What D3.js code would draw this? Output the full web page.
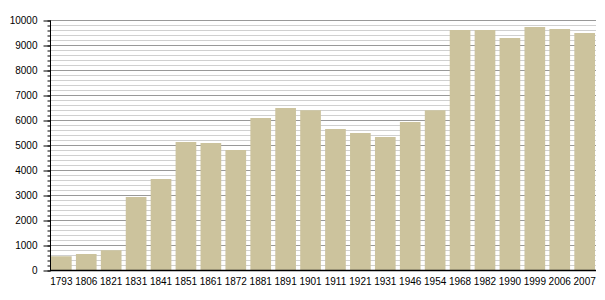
<!DOCTYPE html>
<html>
<head>
<meta charset="utf-8">
<script src="https://cdn.jsdelivr.net/npm/d3@7"></script>
<style>
  body { margin: 0; background: #fff; }
  svg { display: block; }
  text { font-family: "Liberation Sans", Arial, sans-serif; font-size: 10px; fill: #000; }
</style>
</head>
<body>
<svg id="chart" width="605" height="300"></svg>
<script>
const years = ["1793", "1806", "1821", "1831", "1841", "1851", "1861", "1872", "1881", "1891", "1901",
               "1911", "1921", "1931", "1946", "1954", "1968", "1982", "1990", "1999", "2006", "2007"];
const population = [550, 640, 790, 2920, 3640, 5120, 5080, 4800, 6080, 6480, 6390,
                    5640, 5480, 5320, 5920, 6390, 9600, 9600, 9280, 9720, 9640, 9480];
const majorTicks = [0, 1000, 2000, 3000, 4000, 5000, 6000, 7000, 8000, 9000, 10000];
const minorTicks = d3.range(0, 10001, 200);

const svg = d3.select("#chart");
const plotLeft = 50, plotRight = 596, plotTop = 20, plotBottom = 270;

const x = d3.scaleBand()
    .domain(years)
    .range([plotLeft, plotRight])
    .paddingInner(0.17)
    .paddingOuter(0.04);

const y = d3.scaleLinear()
    .domain([0, 10000])
    .range([plotBottom, plotTop]);

// grid lines, minor first then major on top
svg.append("g")
    .selectAll("line")
    .data(minorTicks.filter(d => d % 1000 !== 0))
    .join("line")
    .attr("x1", plotLeft).attr("x2", plotRight)
    .attr("y1", d => Math.round(y(d)) + 0.5).attr("y2", d => Math.round(y(d)) + 0.5)
    .attr("stroke", "#d0d0d0");

svg.append("g")
    .selectAll("line")
    .data(majorTicks.filter(d => d > 0))
    .join("line")
    .attr("x1", plotLeft).attr("x2", plotRight)
    .attr("y1", d => Math.round(y(d)) + 0.5).attr("y2", d => Math.round(y(d)) + 0.5)
    .attr("stroke", "#999");

// bars
svg.append("g")
    .selectAll("rect")
    .data(population)
    .join("rect")
    .attr("x", (_, i) => x(years[i]))
    .attr("y", d => y(d))
    .attr("width", x.bandwidth())
    .attr("height", d => y(0) - y(d))
    .attr("fill", "#ccc39d");

// y axis with major + minor ticks
const yAxis = svg.append("g").attr("transform", `translate(${plotLeft + 0.5},0.5)`);
yAxis.call(d3.axisLeft(y).tickValues(minorTicks).tickSize(3).tickFormat(""))
    .call(g => g.select(".domain").remove());
yAxis.append("g")
    .call(d3.axisLeft(y).tickValues(majorTicks).tickSize(7).tickPadding(6).tickFormat(d3.format("d")))
    .call(g => g.select(".domain").remove())
    .call(g => g.selectAll("text").attr("font-family", null).attr("font-size", null));
yAxis.selectAll("line").attr("stroke", "#000");
yAxis.append("line")
    .attr("x1", 0).attr("x2", 0)
    .attr("y1", plotTop).attr("y2", plotBottom)
    .attr("stroke", "#000");

// x axis
const xAxis = svg.append("g").attr("transform", `translate(0,${plotBottom + 0.5})`);
xAxis.call(d3.axisBottom(x).tickSize(0).tickPadding(7))
    .call(g => g.select(".domain").remove())
    .call(g => g.selectAll("text").attr("font-family", null).attr("font-size", null));
xAxis.append("line")
    .attr("x1", plotLeft).attr("x2", plotRight)
    .attr("stroke", "#000").attr("stroke-width", 1.5);
</script>
</body>
</html>
